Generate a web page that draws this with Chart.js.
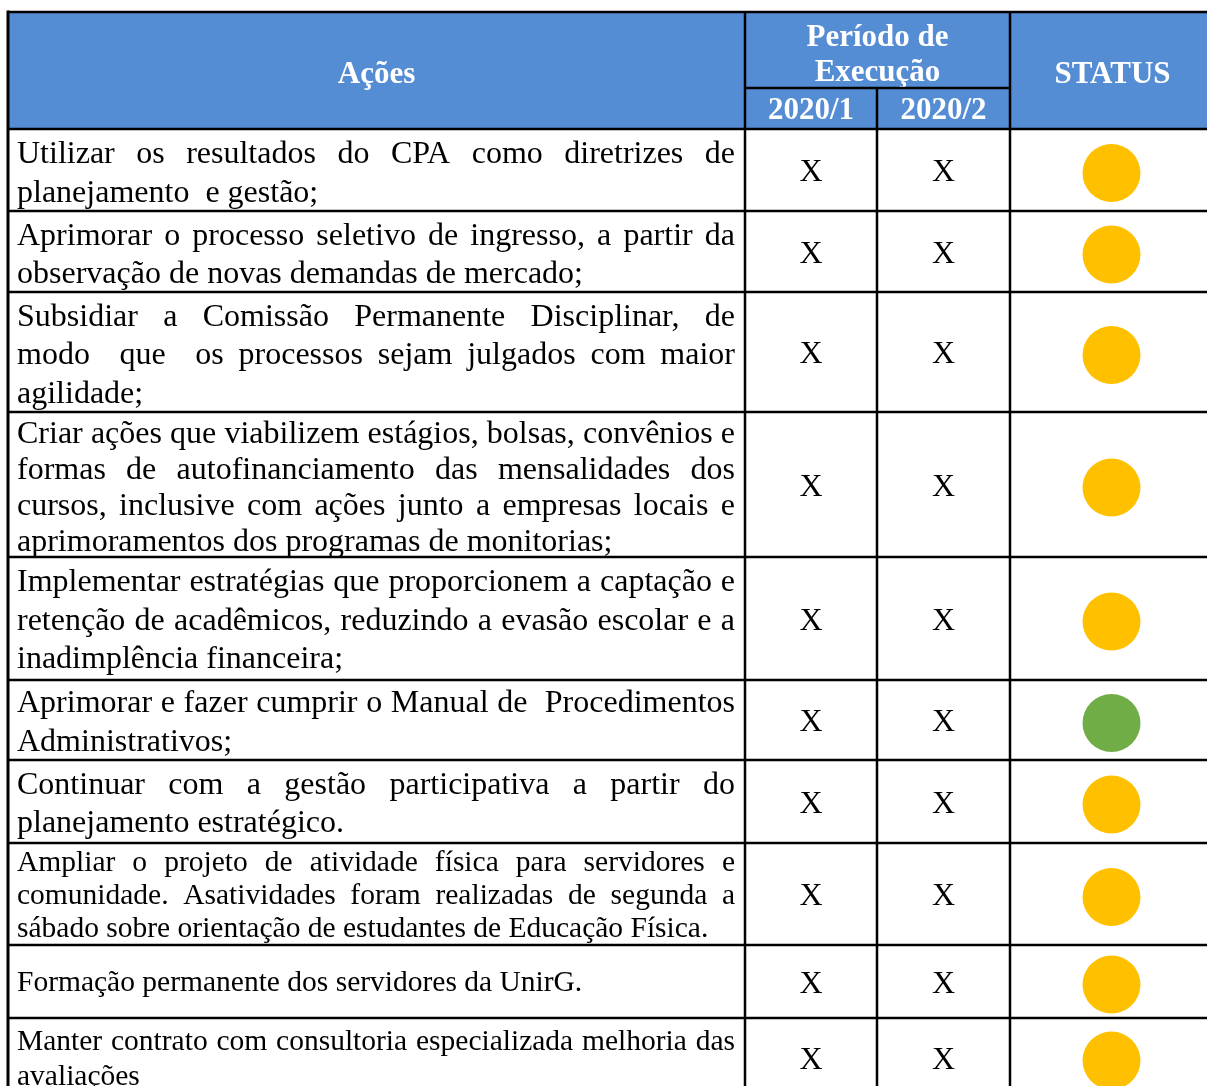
<!DOCTYPE html>
<html><head><meta charset="utf-8">
<script src="https://cdn.jsdelivr.net/npm/chart.js@4.4.1/dist/chart.umd.min.js"></script>
<style>html,body{margin:0;padding:0;background:#fff;overflow:hidden}canvas{display:block}</style>
</head><body><canvas id="c" width="1207" height="1086"></canvas>
<script>
// ---------- DATA ----------
const cabecalhoAcoes = "Ações";
const cabecalhoPeriodo = ["Período de", "Execução"];
const periodos = ["2020/1", "2020/2"];
const cabecalhoStatus = "STATUS";

const acoes = [
  ["Utilizar os resultados do CPA como diretrizes de", "planejamento  e gestão;"],
  ["Aprimorar o processo seletivo de ingresso, a partir da", "observação de novas demandas de mercado;"],
  ["Subsidiar a Comissão Permanente Disciplinar, de", "modo  que  os processos sejam julgados com maior", "agilidade;"],
  ["Criar ações que viabilizem estágios, bolsas, convênios e", "formas de autofinanciamento das mensalidades dos", "cursos, inclusive com ações junto a empresas locais e", "aprimoramentos dos programas de monitorias;"],
  ["Implementar estratégias que proporcionem a captação e", "retenção de acadêmicos, reduzindo a evasão escolar e a", "inadimplência financeira;"],
  ["Aprimorar e fazer cumprir o Manual de  Procedimentos", "Administrativos;"],
  ["Continuar com a gestão participativa a partir do", "planejamento estratégico."],
  ["Ampliar o projeto de atividade física para servidores e", "comunidade. Asatividades foram realizadas de segunda a", "sábado sobre orientação de estudantes de Educação Física."],
  ["Formação permanente dos servidores da UnirG."],
  ["Manter contrato com consultoria especializada melhoria das", "avaliações"]
];
const periodo1 = ["X", "X", "X", "X", "X", "X", "X", "X", "X", "X"];
const periodo2 = ["X", "X", "X", "X", "X", "X", "X", "X", "X", "X"];
const status = ["amarelo", "amarelo", "amarelo", "amarelo", "amarelo", "verde", "amarelo", "amarelo", "amarelo", "amarelo"];

// ---------- LAYOUT / STYLE ----------
const statusCores = { amarelo: "#FFC000", verde: "#70AD47" };
const headerBlue = "#548DD4";
const colEdges = [8, 745, 877, 1010, 1215];
const headerEdges = [12, 88, 129];
const rowEdges = [129, 211, 292, 412, 557, 680, 760, 843, 945, 1018, 1097];
const rowFont = [32, 32, 32, 32, 32, 32, 32, 29.5, 29.5, 29.5];
const rowLineH = [38.5, 38.5, 38.5, 36, 38.5, 38.5, 38.5, 33, 35, 35];
const rowTextDy = [4, 4, 4, 4, 3, 3, 3, 2, 2, 2];
const textPadL = 9, textPadR = 10;
const FONT = "'Liberation Serif','Times New Roman',serif";

const colMid = i => (colEdges[i] + colEdges[i + 1]) / 2;
const rowMid = i => (rowEdges[i] + rowEdges[i + 1]) / 2;

function drawLine(ctx, line, x, w, y, justify) {
  if (!justify) { ctx.fillText(line, x, y); return; }
  const tokens = line.split(' ');
  const gaps = tokens.length - 1;
  const natural = ctx.measureText(line).width;
  const sp = ctx.measureText(' ').width;
  const extra = gaps > 0 ? (w - natural) / gaps : 0;
  let cx = x;
  tokens.forEach(t => {
    if (t) ctx.fillText(t, cx, y);
    cx += ctx.measureText(t).width + sp + extra;
  });
}

const tablePlugin = {
  id: 'tablePlugin',
  beforeDatasetsDraw(chart) {
    const ctx = chart.ctx;
    const xs = chart.scales.x, ys = chart.scales.y;
    const X = v => xs.getPixelForValue(v), Y = v => ys.getPixelForValue(v);
    ctx.save();
    // header background
    ctx.fillStyle = headerBlue;
    ctx.fillRect(X(colEdges[0]), Y(headerEdges[0]), X(colEdges[4]) - X(colEdges[0]), Y(headerEdges[2]) - Y(headerEdges[0]));
    // header text
    ctx.fillStyle = '#fff';
    ctx.font = "bold 31px " + FONT;
    ctx.textAlign = 'center';
    ctx.textBaseline = 'middle';
    ctx.fillText(cabecalhoAcoes, X(colMid(0)), Y(75));
    ctx.fillText(cabecalhoPeriodo[0], X((colEdges[1] + colEdges[3]) / 2), Y(38));
    ctx.fillText(cabecalhoPeriodo[1], X((colEdges[1] + colEdges[3]) / 2), Y(73));
    ctx.fillText(cabecalhoStatus, X(colMid(3)), Y(75));
    ctx.fillText(periodos[0], X(colMid(1)), Y(111));
    ctx.fillText(periodos[1], X(colMid(2)), Y(111));

    // body text
    ctx.fillStyle = '#000';
    acoes.forEach((lines, i) => {
      const fs = rowFont[i], lh = rowLineH[i];
      ctx.font = fs + "px " + FONT;
      ctx.textAlign = 'left';
      const left = colEdges[0] + textPadL;
      const right = colEdges[1] - textPadR;
      const y0 = rowMid(i) + rowTextDy[i] - (lines.length - 1) * lh / 2;
      lines.forEach((ln, k) => {
        drawLine(ctx, ln, X(left), X(right) - X(left), Y(y0 + k * lh), k < lines.length - 1);
      });
      ctx.font = "32px " + FONT;
      ctx.textAlign = 'center';
      ctx.fillText(periodo1[i], X(colMid(1)), Y(rowMid(i) + 3));
      ctx.fillText(periodo2[i], X(colMid(2)), Y(rowMid(i) + 3));
    });

    // grid lines
    ctx.strokeStyle = '#000';
    ctx.lineWidth = 2.5;
    ctx.beginPath();
    ctx.moveTo(X(colEdges[0]), Y(headerEdges[0])); ctx.lineTo(X(colEdges[4]), Y(headerEdges[0]));
    ctx.moveTo(X(colEdges[1]), Y(headerEdges[1])); ctx.lineTo(X(colEdges[3]), Y(headerEdges[1]));
    rowEdges.forEach(r => { ctx.moveTo(X(colEdges[0]), Y(r)); ctx.lineTo(X(colEdges[4]), Y(r)); });
    [1, 3].forEach(c => { ctx.moveTo(X(colEdges[c]), Y(headerEdges[0])); ctx.lineTo(X(colEdges[c]), Y(rowEdges[rowEdges.length - 1])); });
    ctx.moveTo(X(colEdges[2]), Y(headerEdges[1])); ctx.lineTo(X(colEdges[2]), Y(rowEdges[rowEdges.length - 1]));
    ctx.stroke();
    ctx.lineWidth = 3;
    ctx.beginPath();
    ctx.moveTo(X(colEdges[0]), Y(headerEdges[0]) - 1.5); ctx.lineTo(X(colEdges[0]), Y(rowEdges[rowEdges.length - 1]));
    ctx.stroke();
    ctx.restore();
  }
};

new Chart(document.getElementById('c'), {
  type: 'scatter',
  data: {
    datasets: [{
      label: cabecalhoStatus,
      data: status.map((s, i) => ({ x: colMid(3) - 1, y: rowMid(i) + 3 })),
      pointBackgroundColor: status.map(s => statusCores[s]),
      pointBorderColor: status.map(s => statusCores[s]),
      pointBorderWidth: 0,
      pointRadius: 29,
      pointHoverRadius: 29,
      clip: false
    }]
  },
  options: {
    responsive: false,
    animation: false,
    devicePixelRatio: 1,
    layout: { padding: 0, autoPadding: false },
    events: [],
    plugins: { legend: { display: false }, tooltip: { enabled: false } },
    scales: {
      x: { type: 'linear', min: 0, max: 1207, display: false },
      y: { type: 'linear', min: 0, max: 1086, reverse: true, display: false }
    }
  },
  plugins: [tablePlugin]
});
</script>
</body></html>
